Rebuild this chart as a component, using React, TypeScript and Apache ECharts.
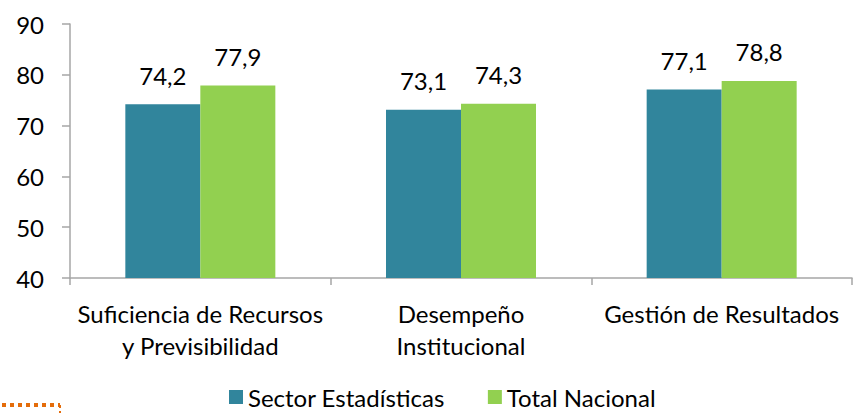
import React, { useEffect, useRef } from "react";
import * as echarts from "echarts";

const categories = ["Suficiencia de Recursos\ny Previsibilidad", "Desempeño\nInstitucional", "Gestión de Resultados"];
const sectorValues = [74.2, 73.1, 77.1];
const nacionalValues = [77.9, 74.3, 78.8];
const seriesNames = ["Sector Estadísticas", "Total Nacional"];

const FONT = "Lato";
const FS = 24;

export default function App() {
  const ref = useRef<HTMLDivElement>(null);
  useEffect(() => {
    const chart = echarts.init(ref.current!, null, { renderer: "svg" });
    const fmt = (p: any) => String(p.value.toFixed(1)).replace(".", ",");
    chart.setOption({
      animation: false,
      textStyle: { fontFamily: FONT },
      grid: { left: 70, right: 9, top: 24, bottom: 135, containLabel: false },
      legend: {
        left: 229,
        top: 385,
        padding: 0,
        itemWidth: 14,
        itemHeight: 14,
        itemGap: 43,
        icon: "rect",
        textStyle: { fontFamily: FONT, fontSize: FS, color: "#000" },
        data: seriesNames,
      },
      xAxis: {
        type: "category",
        data: categories,
        axisLine: { lineStyle: { color: "#A6A6A6", width: 1.5 } },
        axisTick: { show: true, length: 7, lineStyle: { color: "#A6A6A6", width: 1.5 } },
        axisLabel: { interval: 0, fontFamily: FONT, fontSize: FS, color: "#000", margin: 19, lineHeight: 32 },
      },
      yAxis: {
        type: "value",
        min: 40,
        max: 90,
        interval: 10,
        splitLine: { show: false },
        axisLine: { show: true, lineStyle: { color: "#A6A6A6", width: 1.5 } },
        axisTick: { show: true, length: 8, lineStyle: { color: "#A6A6A6", width: 1.5 } },
        axisLabel: { fontFamily: FONT, fontSize: FS, color: "#000", margin: 26 },
      },
      series: [
        {
          name: seriesNames[0],
          type: "bar",
          data: sectorValues,
          barWidth: 75,
          barGap: "0%",
          itemStyle: { color: "#31859C" },
          label: { show: true, position: "top", distance: 17, formatter: fmt, fontFamily: FONT, fontSize: FS, color: "#000" },
        },
        {
          name: seriesNames[1],
          type: "bar",
          data: nacionalValues,
          barWidth: 75,
          barGap: "0%",
          itemStyle: { color: "#92D050" },
          label: { show: true, position: "top", distance: 17, formatter: fmt, fontFamily: FONT, fontSize: FS, color: "#000" },
        },
      ],
      graphic: [
        {
          type: "line",
          shape: { x1: 2, y1: 405, x2: 60, y2: 405 },
          style: { stroke: "#E46C0A", lineWidth: 4, lineDash: [4, 4] },
        },
        {
          type: "line",
          shape: { x1: 60, y1: 405, x2: 60, y2: 413 },
          style: { stroke: "#E46C0A", lineWidth: 2, lineDash: [3, 3] },
        },
      ],
    });
    return () => chart.dispose();
  }, []);
  return <div ref={ref} style={{ width: 861, height: 413, position: "absolute", left: 0, top: 0 }} />;
}
